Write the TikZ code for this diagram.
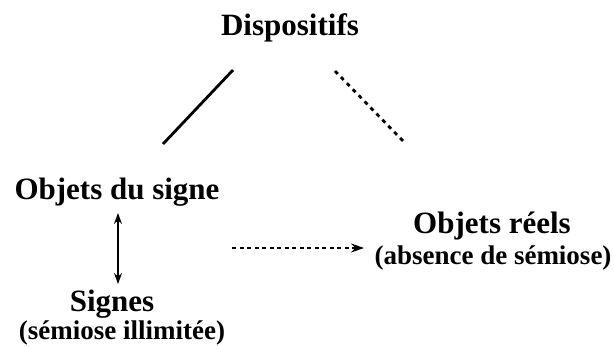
\documentclass[tikz,border=0pt]{standalone}
\usepackage{fontspec}
\setmainfont{Liberation Serif}
\usetikzlibrary{arrows.meta}

\tikzset{
  titre/.style={font=\bfseries\fontsize{31}{36}\selectfont, inner sep=0pt, anchor=base},
  soustitre/.style={font=\bfseries\fontsize{27}{32}\selectfont, inner sep=0pt, anchor=base},
}

\begin{document}
\begin{tikzpicture}[x=1pt,y=-1pt]
    \useasboundingbox (0,0) rectangle (613,346);
    \node[titre] (disp) at (290,35) {Dispositifs};
    \node[titre] (objsigne) at (117,199) {Objets du signe};
    \node[titre] (signes) at (112,311) {Signes};
    \node[soustitre] (illim) at (122,339) {(sémiose illimitée)};
    \node[titre] (objreels) at (492,233) {Objets réels};
    \node[soustitre] (absence) at (493,264) {(absence de sémiose)};
    \coordinate (disp-g) at (233,70);
    \coordinate (signe-h) at (163,144);
    \coordinate (disp-d) at (335,71);
    \coordinate (reels-h) at (404,142);
    \coordinate (signe-b) at (118,213);
    \coordinate (signes-h) at (118,284);
    \coordinate (fleche-g) at (232,248);
    \coordinate (fleche-d) at (364,248);
    \draw[line width=2.8pt] (disp-g) -- (signe-h);
    \draw[line width=2.8pt, dash pattern=on 4pt off 4.5pt] (disp-d) -- (reels-h);
    \draw[line width=1.8pt, {Stealth[length=11pt,width=8pt]}-{Stealth[length=11pt,width=8pt]}] (signe-b) -- (signes-h);
    \draw[line width=2.3pt, dash pattern=on 4pt off 3.5pt, -{Stealth[length=13pt,width=9pt]}] (fleche-g) -- (fleche-d);
\end{tikzpicture}
\end{document}
